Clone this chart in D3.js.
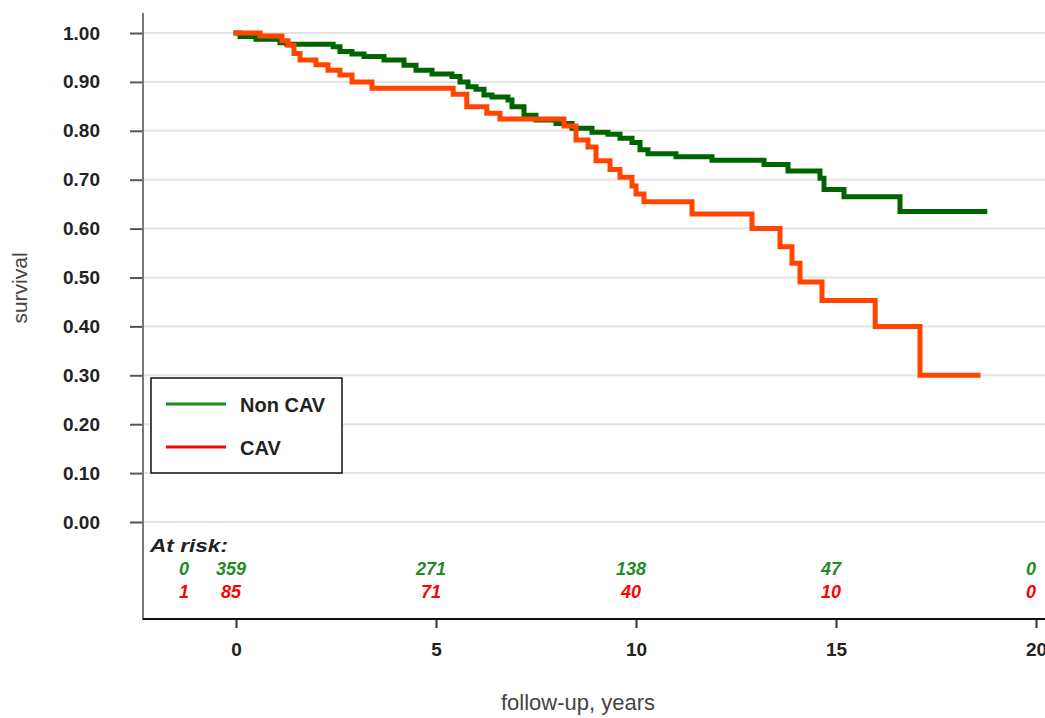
<!DOCTYPE html>
<html>
<head>
<meta charset="utf-8">
<script src="https://cdn.jsdelivr.net/npm/d3@7"></script>
<style>
  body { margin: 0; background: #fff; }
  svg { display: block; font-family: "Liberation Sans", Arial, sans-serif; }
</style>
</head>
<body>
<svg id="km" width="1045" height="718"></svg>
<script>
// Non CAV: time (years) where survival drops, and the new value
const nonCavTimes = [0, 0.1, 0.5, 1.1, 1.27, 2.43, 2.6, 2.9, 3.2, 3.7, 4.2, 4.5, 4.9, 5.4, 5.6, 5.8, 6.0, 6.2, 6.4, 6.8, 6.9, 7.2, 7.5, 8.0, 8.4, 8.9, 9.3, 9.6, 9.9, 10.1, 10.3, 11.0, 11.9, 13.2, 13.8, 14.6, 14.7, 15.2, 16.6];
const nonCavSurv  = [1.0, 0.993, 0.987, 0.98, 0.977, 0.972, 0.962, 0.957, 0.952, 0.945, 0.934, 0.924, 0.916, 0.911, 0.9, 0.89, 0.885, 0.873, 0.869, 0.863, 0.849, 0.832, 0.822, 0.815, 0.805, 0.797, 0.793, 0.785, 0.776, 0.761, 0.753, 0.747, 0.74, 0.731, 0.718, 0.703, 0.68, 0.665, 0.635];
const nonCavEnd = 18.72;

// CAV
const cavTimes = [0, 0.6, 1.15, 1.3, 1.45, 1.6, 2.0, 2.3, 2.6, 2.9, 3.4, 5.43, 5.77, 6.27, 6.6, 8.2, 8.5, 8.8, 9.0, 9.35, 9.6, 9.9, 10.0, 10.2, 11.4, 12.9, 13.6, 13.9, 14.1, 14.65, 15.98, 17.1];
const cavSurv  = [1.0, 0.994, 0.984, 0.975, 0.958, 0.945, 0.935, 0.924, 0.914, 0.9, 0.887, 0.875, 0.849, 0.836, 0.824, 0.81, 0.781, 0.767, 0.739, 0.721, 0.705, 0.687, 0.671, 0.655, 0.63, 0.6, 0.563, 0.529, 0.491, 0.453, 0.40, 0.30];
const cavEnd = 18.55;

const yTicks = [0, 0.1, 0.2, 0.3, 0.4, 0.5, 0.6, 0.7, 0.8, 0.9, 1.0];
const xTicks = [0, 5, 10, 15, 20];

// numbers at risk
const riskTimes = [0, 5, 10, 15, 20];
const nonCavRisk = [359, 271, 138, 47, 0];
const cavRisk = [85, 71, 40, 10, 0];
const groupCodes = ["0", "1"];

const groups = ["Non CAV", "CAV"];
const curveColors = ["#006400", "#ff4500"];
const textColors = ["#228b22", "#ff0000"];
const legendColors = ["#1a8c1a", "#ff0000"];

const svg = d3.select("#km");
const left = 143, right = 1045;
const font = "'Liberation Sans', Arial, sans-serif";

const x = d3.scaleLinear().domain([0, 20]).range([236, 1036]);
const y = d3.scaleLinear().domain([0, 1]).range([522, 33]);

// gridlines
svg.append("g")
  .selectAll("line")
  .data(yTicks)
  .join("line")
  .attr("x1", left).attr("x2", right)
  .attr("y1", d => y(d)).attr("y2", d => y(d))
  .attr("stroke", "#e4e4e4")
  .attr("stroke-width", 2);

// y axis
const yAxis = svg.append("g")
  .attr("transform", `translate(${left},0)`)
  .call(d3.axisLeft(y).tickValues(yTicks).tickFormat(d3.format(".2f")).tickSize(13).tickPadding(30));
yAxis.select(".domain").remove();
yAxis.selectAll(".tick line").attr("stroke", "#555").attr("stroke-width", 2);
yAxis.selectAll(".tick text")
  .attr("font-size", 19).attr("font-weight", "bold").attr("fill", "#222")
  .attr("font-family", font);

svg.append("line")
  .attr("x1", left).attr("x2", left)
  .attr("y1", 13).attr("y2", 620)
  .attr("stroke", "#777").attr("stroke-width", 2);

// x axis
const xAxis = svg.append("g")
  .attr("transform", "translate(0,619)")
  .call(d3.axisBottom(x).tickValues(xTicks).tickFormat(d3.format("d")).tickSize(9).tickPadding(15));
xAxis.select(".domain").remove();
xAxis.selectAll(".tick line").attr("stroke", "#333").attr("stroke-width", 2);
xAxis.selectAll(".tick text")
  .attr("font-size", 19).attr("font-weight", "bold").attr("fill", "#222")
  .attr("font-family", font);

svg.append("line")
  .attr("x1", left).attr("x2", right)
  .attr("y1", 619).attr("y2", 619)
  .attr("stroke", "#111").attr("stroke-width", 2);

// axis titles
svg.append("text")
  .attr("x", 578).attr("y", 710)
  .attr("text-anchor", "middle")
  .attr("font-size", 22).attr("fill", "#444")
  .text("follow-up, years");

svg.append("text")
  .attr("transform", "translate(27,288) rotate(-90)")
  .attr("text-anchor", "middle")
  .attr("font-size", 21).attr("fill", "#444")
  .text("survival");

// survival curves
const line = d3.line()
  .x(d => x(d[0]))
  .y(d => y(d[1]))
  .curve(d3.curveStepAfter);

const series = [
  { times: nonCavTimes, surv: nonCavSurv, end: nonCavEnd },
  { times: cavTimes, surv: cavSurv, end: cavEnd }
].map(s => {
  const pts = s.times.map((t, i) => [t, s.surv[i]]);
  pts.push([s.end, s.surv[s.surv.length - 1]]);
  return pts;
});

svg.append("g")
  .selectAll("path")
  .data(series)
  .join("path")
  .attr("d", line)
  .attr("fill", "none")
  .attr("stroke", (d, i) => curveColors[i])
  .attr("stroke-width", 5)
  .attr("stroke-linejoin", "miter")
  .attr("stroke-linecap", "square");

// legend
const legend = svg.append("g");
legend.append("rect")
  .attr("x", 151).attr("y", 378)
  .attr("width", 191).attr("height", 95)
  .attr("fill", "#fff").attr("stroke", "#111").attr("stroke-width", 1.5);
groups.forEach((g, i) => {
  const ly = 404 + i * 43;
  legend.append("line")
    .attr("x1", 166).attr("x2", 226)
    .attr("y1", ly).attr("y2", ly)
    .attr("stroke", legendColors[i]).attr("stroke-width", 3);
  legend.append("text")
    .attr("x", 240).attr("y", ly + 8)
    .attr("font-size", 20).attr("font-weight", "bold").attr("fill", "#222")
    .text(g);
});

// at risk table
svg.append("text")
  .attr("x", 150).attr("y", 552)
  .attr("font-size", 18).attr("font-weight", "bold").attr("font-style", "italic").attr("fill", "#222")
  .attr("textLength", 78).attr("lengthAdjust", "spacingAndGlyphs")
  .text("At risk:");

[nonCavRisk, cavRisk].forEach((row, r) => {
  const ry = 575 + r * 23;
  const g = svg.append("g")
    .attr("font-size", 18).attr("font-weight", "bold").attr("font-style", "italic")
    .attr("fill", textColors[r]).attr("text-anchor", "middle");
  g.append("text")
    .attr("x", x(-1.25) - 2).attr("y", ry)
    .text(groupCodes[r]);
  g.selectAll("text.n")
    .data(row)
    .join("text")
    .attr("class", "n")
    .attr("x", (d, i) => x(riskTimes[i]) - 5)
    .attr("y", ry)
    .text(d => d);
});
</script>
</body>
</html>
